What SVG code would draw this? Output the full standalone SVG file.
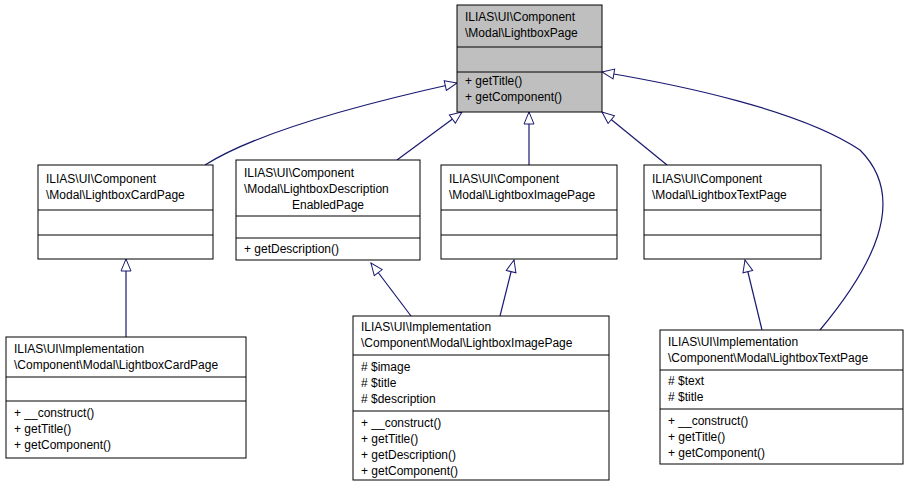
<svg xmlns="http://www.w3.org/2000/svg" width="907" height="485" viewBox="0 0 907 485">
<style>
text{font-family:"Liberation Sans",Arial,sans-serif;font-size:12px;fill:#000}
.b{fill:#fff;stroke:#000;stroke-width:1}
.g{fill:#bfbfbf;stroke:#000;stroke-width:1}
.l{stroke:#000;stroke-width:1}
.e{fill:none;stroke:#191970;stroke-width:1.2}
</style>
<defs><marker id="t" markerWidth="14" markerHeight="12" refX="13" refY="6" orient="auto" markerUnits="userSpaceOnUse"><path d="M1,1 L13,6 L1,11 Z" fill="#fff" stroke="#191970"/></marker></defs>
<rect width="907" height="485" fill="#fff"/>
<g id="connectors">
<path class="e" d="M205,165 C260,130 380,100 457,83" marker-end="url(#t)"/>
<path class="e" d="M397,160 L462,112" marker-end="url(#t)"/>
<path class="e" d="M529,165 L529,112" marker-end="url(#t)"/>
<path class="e" d="M667,165 L602,112" marker-end="url(#t)"/>
<path class="e" d="M820,330 C870,270 910,200 860,150 C800,110 680,85 602,72" marker-end="url(#t)"/>
<path class="e" d="M126,337 L126,259" marker-end="url(#t)"/>
<path class="e" d="M411,316 L371,263" marker-end="url(#t)"/>
<path class="e" d="M500,316 L514,260" marker-end="url(#t)"/>
<path class="e" d="M762,330 L745,260" marker-end="url(#t)"/>
</g>
<g id="top">
<rect class="g" x="457" y="5" width="145" height="107"/>
<line class="l" x1="457" y1="47" x2="602" y2="47"/><line class="l" x1="457" y1="72" x2="602" y2="72"/>
<text x="465" y="21">ILIAS\UI\Component</text><text x="465" y="37">\Modal\LightboxPage</text>
<text x="465" y="85">+ getTitle()</text><text x="465" y="101">+ getComponent()</text>
</g>
<g id="card">
<rect class="b" x="38" y="165" width="175" height="94"/>
<line class="l" x1="38" y1="210" x2="213" y2="210"/><line class="l" x1="38" y1="235" x2="213" y2="235"/>
<text x="46" y="183">ILIAS\UI\Component</text><text x="46" y="199">\Modal\LightboxCardPage</text>
</g>
<g id="desc">
<rect class="b" x="236" y="160" width="184" height="100"/>
<line class="l" x1="236" y1="216" x2="420" y2="216"/><line class="l" x1="236" y1="238" x2="420" y2="238"/>
<text x="244" y="177">ILIAS\UI\Component</text><text x="244" y="193">\Modal\LightboxDescription</text>
<text x="328" y="209" text-anchor="middle">EnabledPage</text>
<text x="244" y="253">+ getDescription()</text>
</g>
<g id="image">
<rect class="b" x="441" y="165" width="176" height="94"/>
<line class="l" x1="441" y1="210" x2="617" y2="210"/><line class="l" x1="441" y1="235" x2="617" y2="235"/>
<text x="449" y="183">ILIAS\UI\Component</text><text x="449" y="199">\Modal\LightboxImagePage</text>
</g>
<g id="text">
<rect class="b" x="644" y="165" width="177" height="94"/>
<line class="l" x1="644" y1="210" x2="821" y2="210"/><line class="l" x1="644" y1="235" x2="821" y2="235"/>
<text x="652" y="183">ILIAS\UI\Component</text><text x="652" y="199">\Modal\LightboxTextPage</text>
</g>
<g id="implcard">
<rect class="b" x="6" y="337" width="240" height="121"/>
<line class="l" x1="6" y1="377" x2="246" y2="377"/><line class="l" x1="6" y1="401" x2="246" y2="401"/>
<text x="14" y="353">ILIAS\UI\Implementation</text><text x="14" y="369">\Component\Modal\LightboxCardPage</text>
<text x="14" y="417">+ __construct()</text><text x="14" y="433">+ getTitle()</text><text x="14" y="449">+ getComponent()</text>
</g>
<g id="implimage">
<rect class="b" x="353" y="316" width="256" height="164"/>
<line class="l" x1="353" y1="355" x2="609" y2="355"/><line class="l" x1="353" y1="411" x2="609" y2="411"/>
<text x="361" y="331">ILIAS\UI\Implementation</text><text x="361" y="347">\Component\Modal\LightboxImagePage</text>
<text x="361" y="371"># $image</text><text x="361" y="387"># $title</text><text x="361" y="403"># $description</text>
<text x="361" y="427">+ __construct()</text><text x="361" y="443">+ getTitle()</text><text x="361" y="459">+ getDescription()</text><text x="361" y="475">+ getComponent()</text>
</g>
<g id="impltext">
<rect class="b" x="660" y="330" width="243" height="134"/>
<line class="l" x1="660" y1="370" x2="903" y2="370"/><line class="l" x1="660" y1="409" x2="903" y2="409"/>
<text x="668" y="346">ILIAS\UI\Implementation</text><text x="668" y="362">\Component\Modal\LightboxTextPage</text>
<text x="668" y="385"># $text</text><text x="668" y="401"># $title</text>
<text x="668" y="425">+ __construct()</text><text x="668" y="441">+ getTitle()</text><text x="668" y="457">+ getComponent()</text>
</g>
</svg>
